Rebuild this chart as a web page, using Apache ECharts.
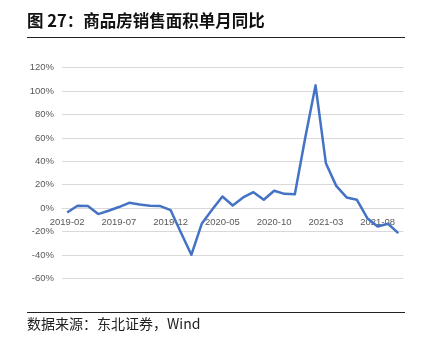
<!DOCTYPE html>
<html>
<head>
<meta charset="utf-8">
<script src="https://cdn.jsdelivr.net/npm/echarts@6/dist/echarts.min.js"></script>
<style>
  html, body { margin: 0; padding: 0; background: #fff; }
  #chart { width: 421px; height: 340px; }
</style>
</head>
<body>
<div id="chart"></div>
<script>
// Monthly categories 2019-02 .. 2021-10
const months = [
  '2019-02','2019-03','2019-04','2019-05','2019-06','2019-07','2019-08','2019-09','2019-10','2019-11','2019-12',
  '2020-01','2020-02','2020-03','2020-04','2020-05','2020-06','2020-07','2020-08','2020-09','2020-10','2020-11','2020-12',
  '2021-01','2021-02','2021-03','2021-04','2021-05','2021-06','2021-07','2021-08','2021-09','2021-10'
];
// Commodity housing sales area, single-month YoY (%)
const salesAreaYoY = [
  -3.8, 2.0, 1.7, -5.1, -2.3, 0.9, 4.5, 3.1, 2.0, 1.7, -1.8,
  -21.0, -39.9, -13.4, -1.5, 9.9, 2.2, 9.1, 13.6, 7.1, 14.8, 12.2, 11.9,
  60.0, 104.9, 38.4, 19.0, 9.1, 7.1, -8.6, -15.7, -13.4, -21.4
];
const yTicks = { min: -60, max: 120, step: 20 };
const titleText = '图 27：商品房销售面积单月同比';
const sourceText = '数据来源：东北证券，Wind';

const gridTop = 67.7, gridBottom = 61.7, chartH = 340;
const plotH = chartH - gridTop - gridBottom;
// shift the category axis up so it sits on the 0% line
const zeroOffset = -plotH * (0 - yTicks.min) / (yTicks.max - yTicks.min);

const chart = echarts.init(document.getElementById('chart'), null, { renderer: 'canvas' });
chart.setOption({
  animation: false,
  backgroundColor: '#ffffff',
  grid: { left: 62, right: 17.5, top: gridTop, bottom: gridBottom },
  xAxis: {
    type: 'category',
    data: months,
    boundaryGap: true,
    position: 'bottom',
    offset: zeroOffset,
    axisLine: { onZero: false, lineStyle: { color: '#d9d9d9', width: 1 } },
    axisTick: { show: false },
    axisLabel: {
      interval: 4,
      color: '#595959',
      fontSize: 9.5,
      fontFamily: 'Liberation Sans, Arial, sans-serif',
      margin: 9
    },
    splitLine: { show: false }
  },
  yAxis: {
    type: 'value',
    min: yTicks.min,
    max: yTicks.max,
    interval: yTicks.step,
    axisLine: { show: false },
    axisTick: { show: false },
    axisLabel: {
      formatter: v => v + '%',
      color: '#595959',
      fontSize: 9.5,
      fontFamily: 'Liberation Sans, Arial, sans-serif',
      margin: 8
    },
    splitLine: { lineStyle: { color: '#d9d9d9', width: 1 } }
  },
  series: [{
    type: 'line',
    data: salesAreaYoY,
    showSymbol: false,
    symbol: 'none',
    z: 5,
    lineStyle: { color: '#4472C4', width: 2.5, join: 'round' }
  }],
  graphic: [
    {
      type: 'text', left: 27, top: 12,
      style: {
        text: titleText, fill: '#111', fontSize: 16.5, fontWeight: 'bold',
        fontFamily: '"Noto Sans CJK SC", sans-serif'
      }
    },
    {
      type: 'line', shape: { x1: 27, y1: 37.5, x2: 405, y2: 37.5 },
      style: { stroke: '#222', lineWidth: 1 }
    },
    {
      type: 'line', shape: { x1: 27, y1: 312.5, x2: 405, y2: 312.5 },
      style: { stroke: '#222', lineWidth: 1 }
    },
    {
      type: 'text', left: 27, top: 317,
      style: {
        text: sourceText, fill: '#222', fontSize: 14,
        fontFamily: '"Noto Sans CJK SC", "Liberation Serif", serif'
      }
    }
  ]
});
</script>
</body>
</html>
